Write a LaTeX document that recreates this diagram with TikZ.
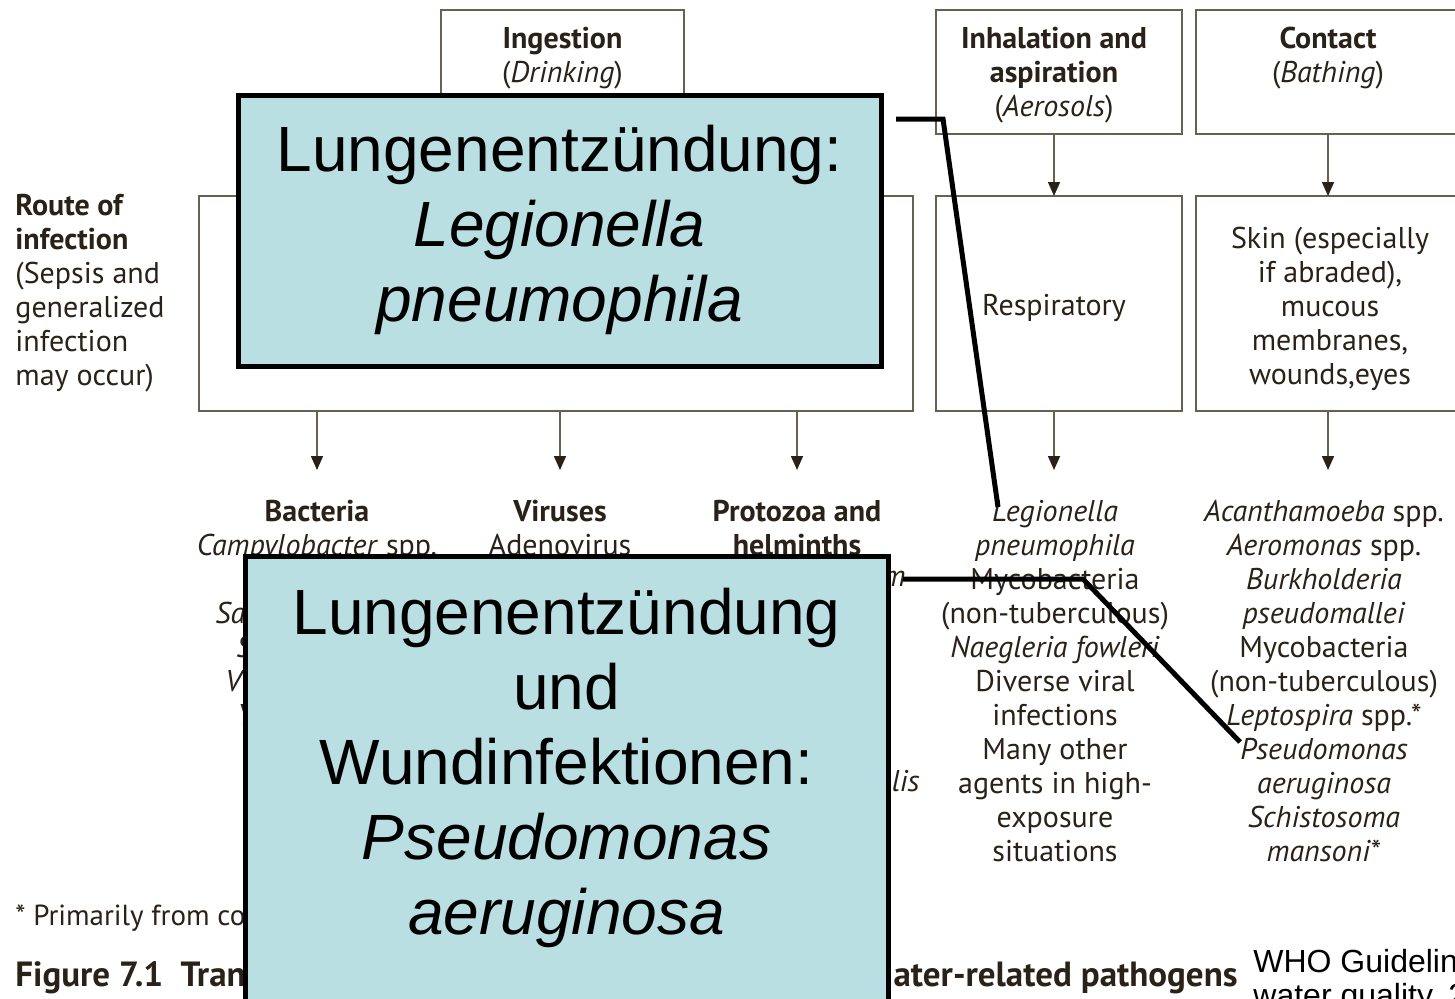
\documentclass[tikz,border=0pt]{standalone}
\usepackage{fontspec}
\setmainfont{PT Sans}
\newfontfamily\calloutfont{Liberation Sans}
\usetikzlibrary{arrows.meta,positioning}
\definecolor{figink}{RGB}{42,34,24}
\definecolor{figline}{RGB}{105,96,80}
\definecolor{calloutblue}{RGB}{185,223,227}
\tikzset{
  figbox/.style={draw=figline,line width=0.75pt,inner sep=0pt,outer sep=0pt},
  figtext/.style={text=figink,font=\fontsize{15}{17}\selectfont,align=center,inner sep=0pt},
  arr/.style={draw=figline,line width=0.75pt,-{Triangle[width=6pt,length=7pt,color=figink,fill=figink]}},
  callout/.style={draw=black,line width=2.5pt,fill=calloutblue,inner sep=0pt,outer sep=0pt},
  callouttext/.style={font=\calloutfont\fontsize{32}{37.5}\selectfont,align=center,inner sep=0pt},
  link/.style={draw=black,line width=2.5pt},
  wholabel/.style={font=\calloutfont\fontsize{16}{17}\selectfont,align=left,anchor=north west,inner sep=0pt}
}
\begin{document}
\begin{tikzpicture}[x=0.5pt,y=-0.5pt]
\useasboundingbox (0,0) rectangle (1455,998);
\clip (0,0) rectangle (1455,998);
\fill [white] (0,0) rectangle (1455,998);

% routes of exposure
\node [figbox, minimum width=121.5pt, minimum height=62pt] (ingest) at (562.5,72) {};
\node [figtext] (ingestlbl) at (562.5,58) {\textbf{Ingestion}\\(\textit{Drinking})};
\node [figbox, minimum width=123pt, minimum height=62pt] (inhal) at (1059,72) {};
\node [figtext] (inhallbl) at (1054,75) {\textbf{Inhalation and}\\\textbf{aspiration}\\(\textit{Aerosols})};
\node [figbox, minimum width=132pt, minimum height=62pt] (contact) at (1328,72) {};
\node [figtext] (contactlbl) at (1328,58) {\textbf{Contact}\\(\textit{Bathing})};

\node [figtext, align=left, anchor=north west] (route) at (15,194) {\textbf{Route of}\\\textbf{infection}\\(Sepsis and\\generalized\\infection\\may occur)};

% routes of infection
\node [figbox, minimum width=357pt, minimum height=107.5pt] (gi) at (556,303.5) {};
\node [figbox, minimum width=123pt, minimum height=107.5pt] (resp) at (1059,303.5) {};
\node [figtext] (resplbl) at (1054,308) {Respiratory};
\node [figbox, minimum width=132pt, minimum height=107.5pt] (skin) at (1328,303.5) {};
\node [figtext] (skinlbl) at (1330,309) {Skin (especially\\if abraded),\\mucous\\membranes,\\wounds,eyes};

% pathogen groups
\node [figtext, anchor=north] (bact) at (317,500) {\textbf{Bacteria}};
\node [figtext, anchor=north] (vir) at (560,500) {\textbf{Viruses}};
\node [figtext, anchor=north] (proto) at (797,500) {\textbf{Protozoa and}\\\textbf{helminths}};
\node [figtext, anchor=north] (bactlist) at (317,534) {\textit{Campylobacter} spp.};
\node [figtext, anchor=north] (virlist) at (560,534) {Adenovirus};
\node [figtext, anchor=west] (frag1) at (215,613) {\textit{Sa}};
\node [figtext, anchor=west] (frag2) at (236,647) {\textit{S}};
\node [figtext, anchor=west] (frag3) at (225,681) {\textit{Vi}};
\node [figtext, anchor=west] (frag4) at (237,715) {\textit{Y}};
\node [figtext, anchor=east] (frag5) at (906,579) {\textit{m}};
\node [figtext, anchor=east] (frag6) at (920,781) {\textit{lis}};

\node [figtext, anchor=north] (resplist) at (1055,500) {\textit{Legionella}\\\textit{pneumophila}\\Mycobacteria\\(non-tuberculous)\\\textit{Naegleria fowleri}\\Diverse viral\\infections\\Many other\\agents in high-\\exposure\\situations};
\node [figtext, anchor=north] (contactlist) at (1324,500) {\textit{Acanthamoeba} spp.\\\textit{Aeromonas} spp.\\\textit{Burkholderia}\\\textit{pseudomallei}\\Mycobacteria\\(non-tuberculous)\\\textit{Leptospira} spp.*\\\textit{Pseudomonas}\\\textit{aeruginosa}\\\textit{Schistosoma}\\\textit{mansoni}*};

\draw [arr] (inhal.south -| resplbl) -- (resp.north -| resplbl);
\draw [arr] (contact.south -| contactlbl) -- (skin.north -| contactlbl);
\draw [arr, shorten >=15pt] (gi.south -| bact.north) -- (bact.north);
\draw [arr, shorten >=15pt] (gi.south -| vir.north) -- (vir.north);
\draw [arr, shorten >=15pt] (gi.south -| proto.north) -- (proto.north);
\draw [arr, shorten >=15pt] (resp.south -| resplbl) -- (resplist.north -| resplbl);
\draw [arr, shorten >=15pt] (skin.south -| contactlbl) -- (contactlist.north -| contactlbl);

% footer
\node [figtext, font=\fontsize{14.5}{16}\selectfont, anchor=west] (footnote) at (15,918) {* Primarily from co};
\node [figtext, font=\bfseries\fontsize{17.5}{19}\selectfont, anchor=west] (capleft) at (15,978) {Figure 7.1\hspace{0.5em}Tran};
\node [figtext, font=\bfseries\fontsize{17.5}{19}\selectfont, anchor=east] (capright) at (1238,978) {ater-related pathogens};
\node [wholabel] (who) at (1253,949) {WHO Guidelin\\water quality, 2};

% callouts
\node [callout, minimum width=321.5pt, minimum height=135.5pt] (call1) at (559.5,230.5) {};
\node [callouttext] (call1txt) at (559.5,230) {Lungenentzündung:\\\textit{Legionella}\\\textit{pneumophila}};
\node [callout, minimum width=321.5pt, minimum height=225pt] (call2) at (566.5,781) {};
\node [callouttext] (call2txt) at (566.5,768) {Lungenentzündung\\und\\Wundinfektionen:\\\textit{Pseudomonas}\\\textit{aeruginosa}};

\coordinate (bend1) at (943,119);
\coordinate (legion) at (998,507);
\draw [link] ([shift={(15,24)}]call1.north east) -- (bend1) -- (legion);
\coordinate (bend2) at (1083,579);
\coordinate (pseudo) at (1240,742);
\draw [link] ([shift={(15,23)}]call2.north east) -- (bend2) -- (pseudo);

\end{tikzpicture}
\end{document}
